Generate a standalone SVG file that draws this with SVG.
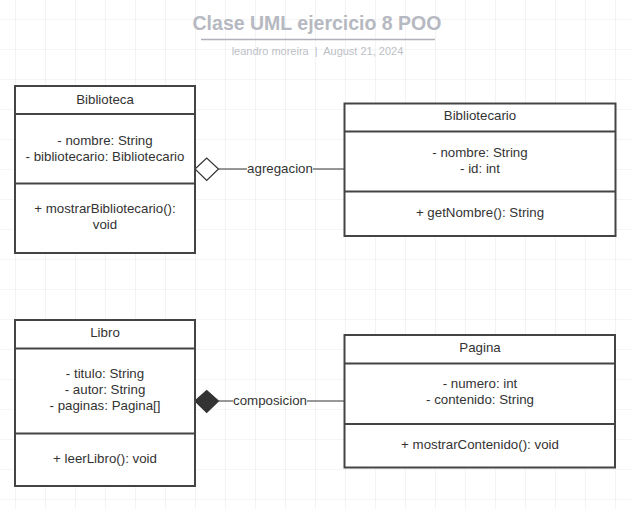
<svg xmlns="http://www.w3.org/2000/svg" width="631" height="509" viewBox="0 0 631 509">
<defs>
<pattern id="grid" x="15" y="19" width="30" height="30" patternUnits="userSpaceOnUse">
<path d="M0 0H30M0 0V30" fill="none" stroke="#ebebeb" stroke-width="1.2"/>
</pattern>
<style>
.box{fill:#fff;stroke:#444;stroke-width:2}
.sep{stroke:#444;stroke-width:2}
.t{font-family:"Liberation Sans",Arial,sans-serif;font-size:13.3px;fill:#333;text-anchor:middle}
.ln{stroke:#333;stroke-width:1.2;fill:none}
</style>
</defs>
<rect width="631" height="509" fill="#fff"/>
<rect width="631" height="509" fill="url(#grid)"/>
<g id="title">
<text x="317" y="30" font-family="Liberation Sans,Arial,sans-serif" font-size="19.5" font-weight="bold" fill="#b6b9c1" text-anchor="middle">Clase UML ejercicio 8 POO</text>
<line x1="201" y1="39.5" x2="435" y2="39.5" stroke="#aeb1b9" stroke-width="1.5"/>
<text x="317.5" y="54.5" font-family="Liberation Sans,Arial,sans-serif" font-size="11" fill="#bcc0c6" text-anchor="middle" xml:space="preserve">leandro moreira  |  August 21, 2024</text>
</g>
<g id="connectors">
<g id="agregacion">
<line class="ln" x1="218.5" y1="169" x2="344" y2="169"/>
<polygon points="195,169 206.7,158 218.5,169 206.7,180.5" fill="#fff" stroke="#333" stroke-width="1.2"/>
<rect x="247" y="161" width="66" height="14" fill="#fff"/>
<text class="t" x="280" y="172.5">agregacion</text>
</g>
<g id="composicion">
<line class="ln" x1="218.5" y1="401" x2="344" y2="401"/>
<polygon points="195,401 206.7,390.5 218.5,401 206.7,412.5" fill="#333" stroke="#333" stroke-width="1.2"/>
<rect x="233" y="393" width="74" height="14" fill="#fff"/>
<text class="t" x="270" y="404.5">composicion</text>
</g>
</g>
<g id="Biblioteca">
<rect class="box" x="15" y="86" width="180" height="167"/>
<line class="sep" x1="15" y1="114" x2="195" y2="114"/>
<line class="sep" x1="15" y1="183.5" x2="195" y2="183.5"/>
<text class="t" x="105" y="103.5">Biblioteca</text>
<text class="t" x="105" y="144.5">- nombre: String</text>
<text class="t" x="105" y="160.5">- bibliotecario: Bibliotecario</text>
<text class="t" x="105" y="212.5">+ mostrarBibliotecario():</text>
<text class="t" x="105" y="228.5">void</text>
</g>
<g id="Bibliotecario">
<rect class="box" x="344.5" y="103.5" width="271" height="132.5"/>
<line class="sep" x1="344.5" y1="131.5" x2="615.5" y2="131.5"/>
<line class="sep" x1="344.5" y1="191.5" x2="615.5" y2="191.5"/>
<text class="t" x="480" y="120">Bibliotecario</text>
<text class="t" x="480" y="156.5">- nombre: String</text>
<text class="t" x="480" y="172.5">- id: int</text>
<text class="t" x="480" y="217">+ getNombre(): String</text>
</g>
<g id="Libro">
<rect class="box" x="15" y="320" width="180" height="166"/>
<line class="sep" x1="15" y1="348.5" x2="195" y2="348.5"/>
<line class="sep" x1="15" y1="433.5" x2="195" y2="433.5"/>
<text class="t" x="105" y="336.5">Libro</text>
<text class="t" x="105" y="377.5">- titulo: String</text>
<text class="t" x="105" y="393.5">- autor: String</text>
<text class="t" x="105" y="409.5">- paginas: Pagina[]</text>
<text class="t" x="105" y="463">+ leerLibro(): void</text>
</g>
<g id="Pagina">
<rect class="box" x="344.5" y="335" width="270.5" height="132.5"/>
<line class="sep" x1="344.5" y1="363.5" x2="615" y2="363.5"/>
<line class="sep" x1="344.5" y1="424" x2="615" y2="424"/>
<text class="t" x="480" y="352">Pagina</text>
<text class="t" x="480" y="388">- numero: int</text>
<text class="t" x="480" y="404">- contenido: String</text>
<text class="t" x="480" y="449">+ mostrarContenido(): void</text>
</g>
</svg>
